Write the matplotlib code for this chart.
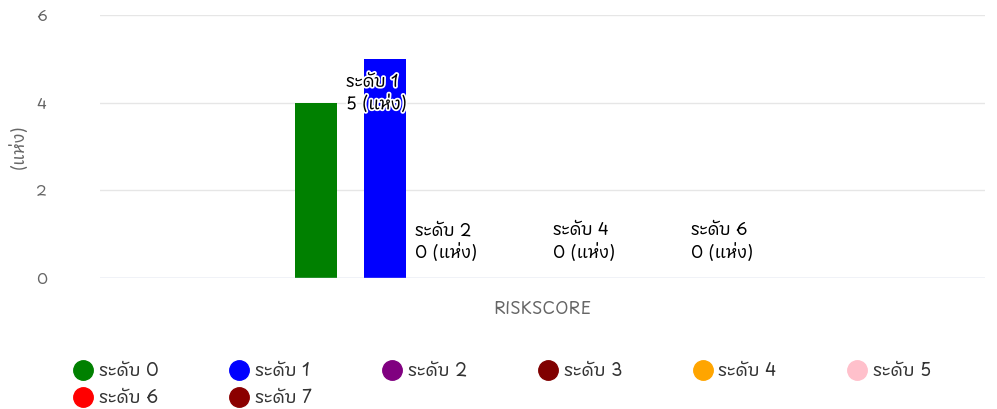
import matplotlib
matplotlib.use("Agg")
import matplotlib.pyplot as plt
from matplotlib import font_manager
from matplotlib.ft2font import FT2Font
import matplotlib.patheffects as pe
from matplotlib.lines import Line2D

series_names = ["ระดับ 0", "ระดับ 1", "ระดับ 2", "ระดับ 3", "ระดับ 4", "ระดับ 5", "ระดับ 6", "ระดับ 7"]
values = [4, 5, 0, 0, 0, 0, 0, 0]
colors = ["green", "blue", "purple", "maroon", "orange", "pink", "red", "darkred"]
labelled = [1, 2, 4, 6]  # series whose data labels are visible
category = "RISKSCORE"
unit = "(แห่ง)"
yticks = [0, 2, 4, 6]


def find_thai_font():
    # pick an installed font that actually has Thai glyphs
    best = None
    for f in font_manager.fontManager.ttflist:
        try:
            ft = FT2Font(f.fname)
            if ft.get_char_index(0x0E23) and ft.get_char_index(0x0E1A):
                if best is None or "Sans" in f.name:
                    best = f.name
        except Exception:
            pass
    return best


thai = find_thai_font()
fams = ([thai] if thai else []) + ["DejaVu Sans"]
plt.rcParams["font.family"] = fams

fig = plt.figure(figsize=(9.97, 4.09), dpi=100)
ax = fig.add_axes([100 / 997, 1 - 278 / 409, 885 / 997, 263 / 409])

x = list(range(len(values)))
bars = ax.bar(x, values, width=0.6, color=colors, zorder=3)

for i in labelled:
    v = values[i]
    txt = f"{series_names[i]}\n{v} (แห่ง)"
    if v > 0:
        ax.annotate(txt, (x[i], v), xytext=(-28, -10), textcoords="offset points",
                    ha="left", va="top", fontsize=12, fontweight="bold", color="black",
                    zorder=5, linespacing=1.25,
                    path_effects=[pe.withStroke(linewidth=2.5, foreground="white")])
    else:
        ax.annotate(txt, (x[i], v), xytext=(-28, 11), textcoords="offset points",
                    ha="left", va="bottom", fontsize=12, fontweight="bold", color="black",
                    zorder=5, linespacing=1.25)

ax.set_xlim(-3.13, 9.70)
ax.set_ylim(0, 6)
ax.set_yticks(yticks)
ax.tick_params(axis="y", length=0, labelsize=11, labelcolor="#666666", pad=42)
for t in ax.get_yticklabels():
    t.set_horizontalalignment("center")
ax.set_xticks([])
ax.grid(axis="y", color="#e6e6e6", linewidth=1, zorder=0)
for s in ax.spines.values():
    s.set_visible(False)
ax.axhline(0, color="#ccd6eb", linewidth=1, zorder=4)

ax.set_ylabel(unit, fontsize=12, color="#666666")
ax.yaxis.set_label_coords(-0.08, 0.5)
ax.set_xlabel(category, fontsize=12, color="#666666", labelpad=16)

handles = [Line2D([], [], marker="o", linestyle="", markersize=14, color=c) for c in colors]
order = [0, 6, 1, 7, 2, 3, 4, 5]
fig.legend([handles[i] for i in order], [series_names[i] for i in order],
           ncol=6, loc="upper left", bbox_to_anchor=(64 / 997, 1 - 352 / 409),
           frameon=False, fontsize=12.5, handletextpad=0.3, columnspacing=4.05,
           labelspacing=0.45, handlelength=1.2, borderpad=0, labelcolor="#333333")

fig.savefig("out.png", dpi=100)
